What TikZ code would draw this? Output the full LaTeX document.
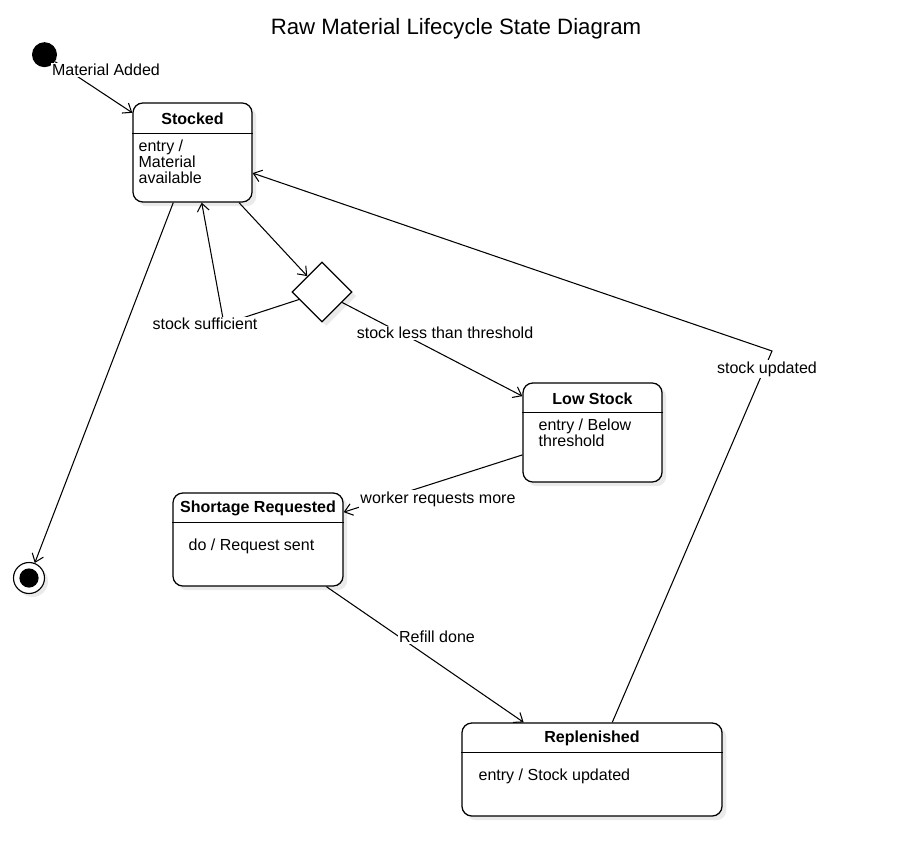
\documentclass[tikz,border=0pt]{standalone}
\usepackage{fontspec}
\setmainfont{Liberation Sans}
\usepackage{tikz}
\usetikzlibrary{arrows.meta,shapes.geometric,shadows,calc}

\begin{document}
\begin{tikzpicture}[x=0.025cm, y=-0.025cm,
    font=\fontsize{11.4}{11.4}\selectfont,
    statebox/.style={draw, line width=0.9pt, rounded corners=7pt, fill=white, inner sep=0pt,
      drop shadow={shadow xshift=3pt, shadow yshift=-3pt, fill=black!16}},
    statetitle/.style={font=\fontsize{11.4}{11.4}\selectfont\bfseries, inner sep=0pt},
    statebody/.style={anchor=north west, align=left, inner sep=0pt},
    trans/.style={line width=0.75pt, -{Straight Barb[length=5.5pt,width=8.5pt]}},
    edgelabel/.style={fill=white, inner sep=1pt}]
        \useasboundingbox (0,0) rectangle (912,866);                       %
        \node (title) at (456,28.5) {\fontsize{15.8}{18}\selectfont Raw Material Lifecycle State Diagram};

        % pseudo states and choice
        \node [circle, fill, minimum size=0.625cm, inner sep=0pt] (init) at (44.5,54.7) {};
        \node [circle, draw, fill=white, line width=0.8pt, minimum size=0.775cm, inner sep=0pt,
               drop shadow={shadow xshift=2.5pt, shadow yshift=-2.5pt, fill=black!16}] (final) at (29,578) {};
        \node [circle, fill, minimum size=0.48cm, inner sep=0pt] (final-dot) at (final) {};
        \node [diamond, draw, fill=white, line width=0.9pt, minimum width=1.5cm, minimum height=1.5cm,
               inner sep=0pt, drop shadow={shadow xshift=3pt, shadow yshift=-3pt, fill=black!16}]
               (choice) at (322,292) {};

        % states
        \node [statebox, minimum width=2.975cm, minimum height=2.475cm] (stocked) at (192.5,152.5) {};
        \draw [line width=0.8pt] ($(stocked.north west)+(0,31)$) -- ($(stocked.north east)+(0,31)$);
        \node [statetitle] (stocked-t) at ($(stocked.north)+(0,16.5)$) {Stocked};
        \node [statebody]  (stocked-b) at ($(stocked.north west)+(6,37.5)$) {entry /\\Material\\available};

        \node [statebox, minimum width=3.475cm, minimum height=2.475cm] (low) at (592.5,432.5) {};
        \draw [line width=0.8pt] ($(low.north west)+(0,30)$) -- ($(low.north east)+(0,30)$);
        \node [statetitle] (low-t) at ($(low.north)+(0,16)$) {Low Stock};
        \node [statebody]  (low-b) at ($(low.north west)+(16,36.5)$) {entry / Below\\threshold};

        \node [statebox, minimum width=4.25cm, minimum height=2.325cm] (shortage) at (258,539.5) {};
        \draw [line width=0.8pt] ($(shortage.north west)+(0,30)$) -- ($(shortage.north east)+(0,30)$);
        \node [statetitle] (shortage-t) at ($(shortage.north)+(0,16)$) {Shortage Requested};
        \node [statebody]  (shortage-b) at ($(shortage.north west)+(16,46.5)$) {do / Request sent};

        \node [statebox, minimum width=6.5cm, minimum height=2.325cm] (replen) at (592,769.5) {};
        \draw [line width=0.8pt] ($(replen.north west)+(0,30)$) -- ($(replen.north east)+(0,30)$);
        \node [statetitle] (replen-t) at ($(replen.north)+(0,16)$) {Replenished};
        \node [statebody]  (replen-b) at ($(replen.north west)+(17,46.5)$) {entry / Stock updated};

        % transitions
        \coordinate (sufbend) at (224,324);                                %bend under label
        \coordinate (updbend) at (772,351);                                %bend under label
        \draw [trans] (init)     -- (stocked);                             %
        \draw [trans] (stocked)  -- (final);                               %
        \draw [trans] (stocked)  -- (choice);                              %
        \draw [trans] (choice)   -- (sufbend) -- (stocked);                %sufficient
        \draw [trans] (choice)   -- (low);                                 %below threshold
        \draw [trans] (low)      -- (shortage);                            %
        \draw [trans] (shortage) -- (replen);                              %
        \draw [trans] (replen)   -- (updbend) -- (stocked);                %back to stock

        % labels
        \node [edgelabel] (l-added)  at (106,70)  {Material Added};
        \node [edgelabel] (l-suff)   at (205,324) {stock sufficient};
        \node [edgelabel] (l-less)   at (445,333) {stock less than threshold};
        \node [edgelabel] (l-worker) at (438,499) {worker requests more};
        \node [edgelabel] (l-refill) at (437,637) {Refill done};
        \node [edgelabel] (l-upd)    at (767,369) {stock updated};
\end{tikzpicture}
\end{document}
